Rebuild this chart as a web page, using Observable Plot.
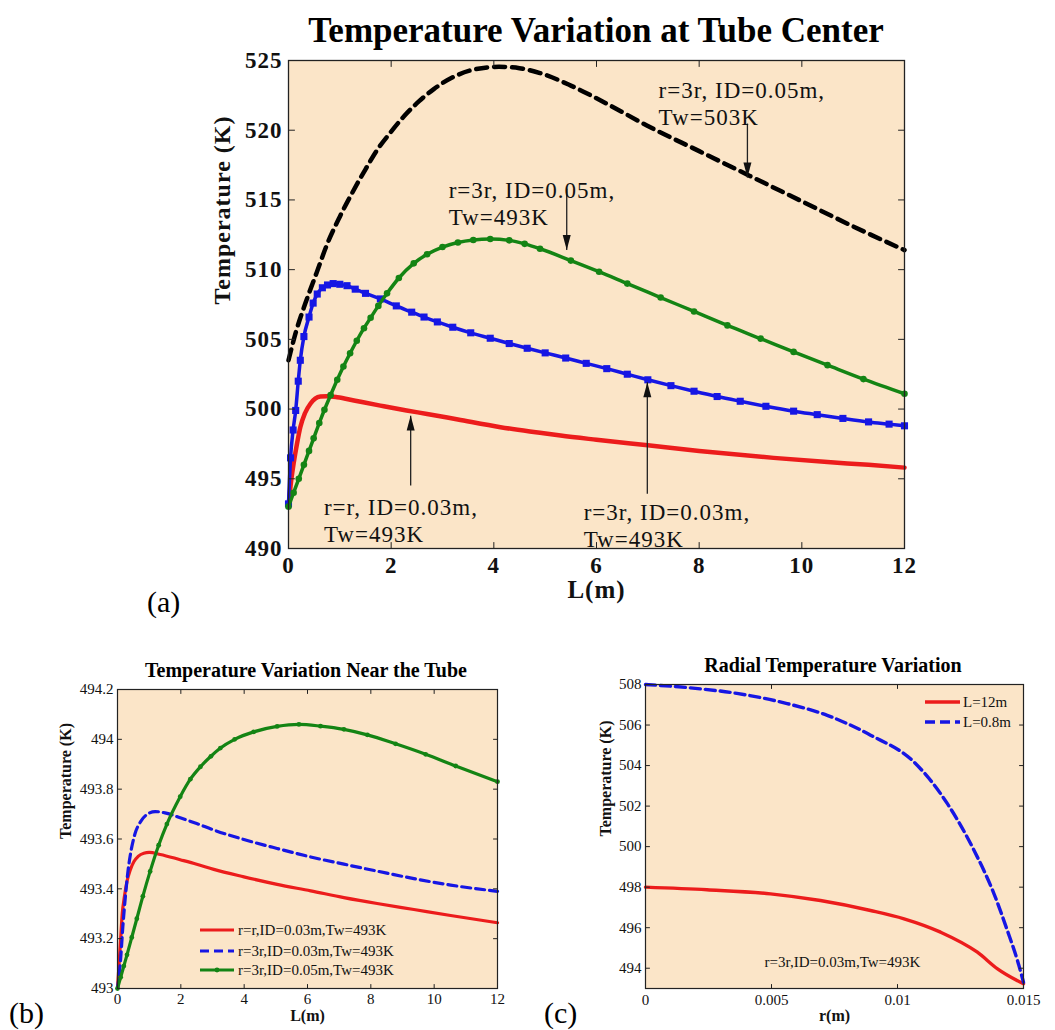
<!DOCTYPE html>
<html><head><meta charset="utf-8">
<script src="https://cdn.jsdelivr.net/npm/d3@7"></script>
<script src="https://cdn.jsdelivr.net/npm/@observablehq/plot@0.6"></script>
<style>
body{margin:0;background:#fff;}
#root{position:relative;width:1055px;height:1030px;overflow:hidden;font-family:"Liberation Serif","Times New Roman",serif;color:#000;background:#fff;}
.abs{position:absolute;white-space:nowrap;line-height:1;}
#root svg{display:block;}
#root svg text{font-family:"Liberation Serif","Times New Roman",serif;}
</style></head><body><div id="root"></div>
<script>
const FONT = '"Liberation Serif", "Times New Roman", serif';
const BG = "#FBE5C8";
const RED = "#EC1C1C", BLUE = "#1616E4", GREEN = "#148414", BLACK = "#000000";

// ---------- Panel (a): Temperature Variation at Tube Center ----------
const aXTicks = [0, 2, 4, 6, 8, 10, 12];
const aYTicks = [490, 495, 500, 505, 510, 515, 520, 525];

const aL_red = [0, 0.05, 0.1, 0.17, 0.23, 0.32, 0.43, 0.52, 0.62, 0.75, 0.95, 1.3, 1.79, 2.3, 2.7, 3.3, 4.13, 4.9, 5.3, 6.0, 7.0, 8.0, 9.45, 10.5, 11.3, 12];
const aT_red = [493.0, 494.8, 496.1, 497.6, 498.7, 499.7, 500.4, 500.75, 500.9, 500.92, 500.85, 500.6, 500.25, 499.9, 499.65, 499.25, 498.7, 498.3, 498.1, 497.8, 497.4, 497.0, 496.5, 496.2, 496.0, 495.8];

const aL_blue = [0, 0.04, 0.09, 0.14, 0.19, 0.23, 0.3, 0.4, 0.48, 0.56, 0.66, 0.76, 0.87, 1.0, 1.14, 1.3, 1.5, 1.79, 2.1, 2.4, 2.64, 2.9, 3.2, 3.55, 3.93, 4.3, 4.65, 5.0, 5.4, 5.8, 6.2, 6.6, 7.0, 7.45, 7.9, 8.35, 8.8, 9.3, 9.84, 10.3, 10.8, 11.3, 11.7, 12];
const aT_blue = [493.2, 496.5, 498.5, 499.9, 502.0, 503.5, 505.2, 506.6, 507.6, 508.25, 508.7, 508.9, 509.0, 508.95, 508.85, 508.6, 508.3, 507.9, 507.4, 506.95, 506.6, 506.25, 505.87, 505.47, 505.08, 504.7, 504.36, 504.03, 503.66, 503.28, 502.9, 502.5, 502.1, 501.68, 501.28, 500.9, 500.56, 500.2, 499.85, 499.6, 499.33, 499.08, 498.92, 498.8];

const aL_green = [0, 0.1, 0.2, 0.3, 0.4, 0.49, 0.6, 0.7, 0.82, 0.95, 1.07, 1.2, 1.33, 1.47, 1.6, 1.75, 1.92, 2.15, 2.44, 2.7, 3.0, 3.3, 3.6, 3.93, 4.3, 4.6, 4.9, 5.5, 6.05, 6.6, 7.25, 7.9, 8.55, 9.2, 9.84, 10.5, 11.2, 12];
const aT_green = [493.0, 494.0, 495.0, 496.0, 497.0, 497.9, 499.0, 499.95, 501.0, 502.1, 503.05, 504.0, 504.9, 505.8, 506.55, 507.4, 508.3, 509.4, 510.45, 511.1, 511.62, 511.95, 512.13, 512.2, 512.1, 511.85, 511.5, 510.65, 509.85, 509.0, 508.0, 507.0, 506.0, 505.05, 504.1, 503.15, 502.15, 501.1];

const aL_black = [0, 0.15, 0.33, 0.55, 0.75, 1.0, 1.24, 1.5, 1.73, 2.0, 2.25, 2.55, 2.83, 3.2, 3.61, 4.1, 4.5, 4.9, 5.5, 6.2, 7.0, 8.0, 9.0, 10.0, 11.0, 12.0];
const aT_black = [503.5, 505.6, 507.6, 509.8, 511.8, 513.8, 515.5, 517.2, 518.6, 519.9, 521.0, 522.1, 522.95, 523.8, 524.35, 524.55, 524.45, 524.1, 523.2, 521.9, 520.3, 518.5, 516.7, 514.9, 513.1, 511.4];

const annA_text = ["r=3r, ID=0.05m,\nTw=503K", "r=3r, ID=0.05m,\nTw=493K", "r=r, ID=0.03m,\nTw=493K", "r=3r, ID=0.03m,\nTw=493K"];
const annA_textL = [7.21, 3.12, 0.69, 5.75];
const annA_textT = [523.7, 516.5, 493.74, 493.4];
const annA_arrowL = [8.94, 5.42, 2.38, 6.99];
const annA_arrowFrom = [520.48, 515.8, 494.51, 493.92];
const annA_arrowTo = [516.6, 511.4, 499.53, 501.92];

// ---------- Panel (b): Temperature Variation Near the Tube ----------
const bXTicks = [0, 2, 4, 6, 8, 10, 12];
const bYTicks = [493, 493.2, 493.4, 493.6, 493.8, 494, 494.2];
const bNames = ["r=r,ID=0.03m,Tw=493K", "r=3r,ID=0.03m,Tw=493K", "r=3r,ID=0.05m,Tw=493K"];

const bL_red = [0, 0.05, 0.1, 0.15, 0.22, 0.3, 0.4, 0.52, 0.65, 0.83, 1.0, 1.35, 1.98, 2.5, 3.04, 3.99, 5.04, 6.1, 7.15, 8.2, 9.36, 10.52, 12];
const bT_red = [493.0, 493.1, 493.2, 493.3, 493.37, 493.43, 493.475, 493.51, 493.53, 493.543, 493.546, 493.538, 493.517, 493.499, 493.478, 493.448, 493.418, 493.392, 493.365, 493.341, 493.317, 493.293, 493.264];

const bL_blue = [0, 0.05, 0.1, 0.17, 0.25, 0.33, 0.41, 0.55, 0.73, 0.95, 1.19, 1.5, 1.98, 2.5, 3.04, 3.99, 5.04, 6.1, 7.15, 8.2, 9.36, 10.52, 12];
const bT_blue = [493.0, 493.05, 493.12, 493.25, 493.37, 493.47, 493.54, 493.62, 493.67, 493.70, 493.71, 493.705, 493.685, 493.662, 493.636, 493.598, 493.562, 493.528, 493.499, 493.471, 493.441, 493.415, 493.39];

const bL_green = [0, 0.1, 0.2, 0.3, 0.45, 0.61, 0.8, 1.03, 1.3, 1.56, 1.98, 2.3, 2.62, 2.95, 3.25, 3.7, 4.3, 5.04, 5.73, 6.41, 7.15, 7.89, 8.78, 9.73, 10.68, 12];
const bT_green = [493.0, 493.045, 493.09, 493.135, 493.205, 493.28, 493.37, 493.47, 493.575, 493.66, 493.77, 493.84, 493.89, 493.932, 493.965, 494.0, 494.03, 494.052, 494.06, 494.053, 494.04, 494.018, 493.982, 493.94, 493.893, 493.83];

// ---------- Panel (c): Radial Temperature Variation ----------
const cXTicks = [0, 0.005, 0.01, 0.015];
const cYTicks = [494, 496, 498, 500, 502, 504, 506, 508];
const cNames = ["L=12m", "L=0.8m"];
const cNote = "r=3r,ID=0.03m,Tw=493K";

const cR_red = [0, 0.00244, 0.00496, 0.00694, 0.00893, 0.01026, 0.01171, 0.01317, 0.01397, 0.015];
const cT_red = [498.0, 497.87, 497.67, 497.34, 496.85, 496.44, 495.78, 494.79, 493.97, 493.23];
const cR_blue = [0, 0.00164, 0.00363, 0.00562, 0.00721, 0.00893, 0.01065, 0.01198, 0.01304, 0.01383, 0.01436, 0.01476, 0.015];
const cT_blue = [508.0, 507.85, 507.56, 507.06, 506.48, 505.5, 504.18, 502.12, 499.81, 497.67, 495.86, 494.38, 493.31];

// ---------- helpers ----------
const rows = (xs, ys) => xs.map((x, i) => ({x, y: ys[i]}));
const root = document.getElementById("root");

function frameTicks(xt, yt, xd, yd, len) {
  const shape = {draw(ctx, l) { ctx.moveTo(0, 0); ctx.lineTo(0, -l); }};
  const c = {length: len, anchor: "start", shape, stroke: "#222", strokeWidth: 1};
  return [
    Plot.vector(xt, {...c, x: d => d, y: () => yd[0], rotate: 0}),
    Plot.vector(xt, {...c, x: d => d, y: () => yd[1], rotate: 180}),
    Plot.vector(yt, {...c, x: () => xd[0], y: d => d, rotate: 90}),
    Plot.vector(yt, {...c, x: () => xd[1], y: d => d, rotate: -90})
  ];
}

function place(node, left, top) {
  node.style.position = "absolute";
  node.style.left = left + "px";
  node.style.top = top + "px";
  root.appendChild(node);
}

function label(text, left, top, size, weight, center) {
  const d = document.createElement("div");
  d.className = "abs";
  d.textContent = text;
  d.style.fontSize = size + "px";
  d.style.fontWeight = weight;
  d.style.left = left + "px";
  d.style.top = top + "px";
  if (center) d.style.transform = "translateX(-50%)";
  root.appendChild(d);
}

function legend(items, o) {
  const svg = d3.create("svg").attr("width", o.w).attr("height", o.h)
    .style("position", "absolute").style("left", o.left + "px").style("top", o.top + "px").style("overflow", "visible");
  items.forEach((it, i) => {
    const y = o.rowY[i] - o.top;
    svg.append("line").attr("x1", o.x1 - o.left).attr("x2", o.x2 - o.left).attr("y1", y).attr("y2", y)
      .attr("stroke", it.color).attr("stroke-width", it.width).attr("stroke-dasharray", it.dash || null);
    if (it.marker) svg.append("circle").attr("cx", (o.x1 + o.x2) / 2 - o.left).attr("cy", y).attr("r", it.marker).attr("fill", it.color);
    svg.append("text").attr("x", o.tx - o.left).attr("y", y).attr("dy", "0.35em")
      .attr("font-size", o.fontSize).attr("font-family", FONT).attr("fill", "#111").text(it.name);
  });
  root.appendChild(svg.node());
}

// ---------- Panel (a) ----------
const annA = annA_text.map((t, i) => ({t, x: annA_textL[i], y: annA_textT[i], ax: annA_arrowL[i], ay1: annA_arrowFrom[i], ay2: annA_arrowTo[i]}));
const plotA = Plot.plot({
  width: 830, height: 620, marginLeft: 158, marginRight: 56, marginTop: 60, marginBottom: 72,
  style: {fontFamily: FONT, background: "transparent", color: "#111", overflow: "visible", letterSpacing: "1px"},
  x: {domain: [0, 12]}, y: {domain: [490, 525]},
  marks: [
    Plot.frame({fill: BG, stroke: null}),
    Plot.line(rows(aL_red, aT_red), {x: "x", y: "y", stroke: RED, strokeWidth: 4.5, curve: "monotone-x"}),
    Plot.line(rows(aL_blue, aT_blue), {x: "x", y: "y", stroke: BLUE, strokeWidth: 3.5, curve: "monotone-x"}),
    Plot.dot(rows(aL_blue, aT_blue), {x: "x", y: "y", symbol: "square", r: 4, fill: BLUE}),
    Plot.line(rows(aL_green, aT_green), {x: "x", y: "y", stroke: GREEN, strokeWidth: 3.5, curve: "monotone-x"}),
    Plot.dot(rows(aL_green, aT_green), {x: "x", y: "y", r: 3.3, fill: GREEN}),
    Plot.line(rows(aL_black, aT_black), {x: "x", y: "y", stroke: BLACK, strokeWidth: 4.5, strokeDasharray: "11,7", curve: "monotone-x"}),
    Plot.link(annA, {x1: "ax", y1: "ay1", x2: "ax", y2: "ay2", stroke: "#222", strokeWidth: 1.3}),
    Plot.vector(annA, {x: "ax", y: "ay2", length: 15, r: 4, shape: "spike", anchor: "end", rotate: d => d.ay2 > d.ay1 ? 0 : 180, fill: "#111", stroke: "none"}),
    Plot.text(annA, {x: "x", y: "y", text: "t", textAnchor: "start", lineAnchor: "top", lineHeight: 1.17, fontSize: 23, fontFamily: FONT, fill: "#111"}),
    ...frameTicks(aXTicks, aYTicks, [0, 12], [490, 525], 6),
    Plot.frame({stroke: "#222", strokeWidth: 1.3}),
    Plot.axisX(aXTicks, {tickSize: 0, tickPadding: 8, fontSize: 23, fontWeight: "bold", fontFamily: FONT, label: null}),
    Plot.axisY(aYTicks, {tickSize: 0, tickPadding: 6, fontSize: 23, fontWeight: "bold", fontFamily: FONT, label: null}),
    Plot.text(["Temperature (K)"], {frameAnchor: "left", dx: -66, rotate: -90, fontSize: 24, fontWeight: "bold", fontFamily: FONT}),
    Plot.text(["L(m)"], {frameAnchor: "bottom", dy: 49, fontSize: 25, fontWeight: "bold", fontFamily: FONT})
  ]
});
place(plotA, 130, 0);
label("Temperature Variation at Tube Center", 596, 13, 35, "bold", true);
label("(a)", 147, 587, 30, "normal", false);

// ---------- Panel (b) ----------
const plotB = Plot.plot({
  width: 520, height: 390, marginLeft: 117, marginRight: 23, marginTop: 49, marginBottom: 42,
  style: {fontFamily: FONT, background: "transparent", color: "#111", overflow: "visible"},
  x: {domain: [0, 12]}, y: {domain: [493, 494.2]},
  marks: [
    Plot.frame({fill: BG, stroke: null}),
    Plot.line(rows(bL_red, bT_red), {x: "x", y: "y", stroke: RED, strokeWidth: 3.2, curve: "monotone-x"}),
    Plot.line(rows(bL_blue, bT_blue), {x: "x", y: "y", stroke: BLUE, strokeWidth: 3.2, strokeDasharray: "9,5", curve: "monotone-x"}),
    Plot.line(rows(bL_green, bT_green), {x: "x", y: "y", stroke: GREEN, strokeWidth: 3.2, curve: "monotone-x"}),
    Plot.dot(rows(bL_green, bT_green), {x: "x", y: "y", r: 2.4, fill: GREEN}),
    ...frameTicks(bXTicks, bYTicks, [0, 12], [493, 494.2], 4),
    Plot.frame({stroke: "#222", strokeWidth: 1.2}),
    Plot.axisX(bXTicks, {tickSize: 0, tickPadding: 5, fontSize: 15, fontFamily: FONT, label: null}),
    Plot.axisY(bYTicks, {tickSize: 0, tickPadding: 4, fontSize: 15, fontFamily: FONT, label: null, tickFormat: d => String(d)}),
    Plot.text(["Temperature (K)"], {frameAnchor: "left", dx: -52, rotate: -90, fontSize: 16, fontWeight: "bold", fontFamily: FONT}),
    Plot.text(["L(m)"], {frameAnchor: "bottom", dy: 32, fontSize: 16, fontWeight: "bold", fontFamily: FONT})
  ]
});
place(plotB, 0, 640);
label("Temperature Variation Near the Tube", 306, 660, 20, "bold", true);
label("(b)", 9, 998, 30, "normal", false);
legend([
  {name: bNames[0], color: RED, width: 3.2},
  {name: bNames[1], color: BLUE, width: 3.2, dash: "9,5"},
  {name: bNames[2], color: GREEN, width: 3.2, marker: 2.4}
], {left: 190, top: 915, w: 200, h: 70, x1: 200, x2: 234, tx: 238, rowY: [930, 951, 970], fontSize: 15});

// ---------- Panel (c) ----------
const plotC = Plot.plot({
  width: 535, height: 390, marginLeft: 125, marginRight: 32, marginTop: 44, marginBottom: 42,
  style: {fontFamily: FONT, background: "transparent", color: "#111", overflow: "visible"},
  x: {domain: [0, 0.015]}, y: {domain: [493, 508]},
  marks: [
    Plot.frame({fill: BG, stroke: null}),
    Plot.line(rows(cR_red, cT_red), {x: "x", y: "y", stroke: RED, strokeWidth: 3.4, curve: "monotone-x"}),
    Plot.line(rows(cR_blue, cT_blue), {x: "x", y: "y", stroke: BLUE, strokeWidth: 3.4, strokeDasharray: "10,5", curve: "monotone-x"}),
    ...frameTicks(cXTicks, cYTicks, [0, 0.015], [493, 508], 4),
    Plot.frame({stroke: "#222", strokeWidth: 1.2}),
    Plot.axisX(cXTicks, {tickSize: 0, tickPadding: 6, fontSize: 15, fontFamily: FONT, label: null, tickFormat: d => String(d)}),
    Plot.axisY(cYTicks, {tickSize: 0, tickPadding: 4, fontSize: 15, fontFamily: FONT, label: null}),
    Plot.text([cNote], {frameAnchor: "bottom", dx: 8, dy: -22, fontSize: 15, fontFamily: FONT}),
    Plot.text(["Temperature (K)"], {frameAnchor: "left", dx: -40, rotate: -90, fontSize: 16, fontWeight: "bold", fontFamily: FONT}),
    Plot.text(["r(m)"], {frameAnchor: "bottom", dy: 32, fontSize: 16, fontWeight: "bold", fontFamily: FONT})
  ]
});
place(plotC, 520, 640);
label("Radial Temperature Variation", 833, 655, 20, "bold", true);
label("(c)", 544, 998, 30, "normal", false);
legend([
  {name: cNames[0], color: RED, width: 3.4},
  {name: cNames[1], color: BLUE, width: 3.4, dash: "10,5"}
], {left: 915, top: 690, w: 110, h: 45, x1: 925, x2: 960, tx: 963, rowY: [702, 722], fontSize: 15});
</script></body></html>
